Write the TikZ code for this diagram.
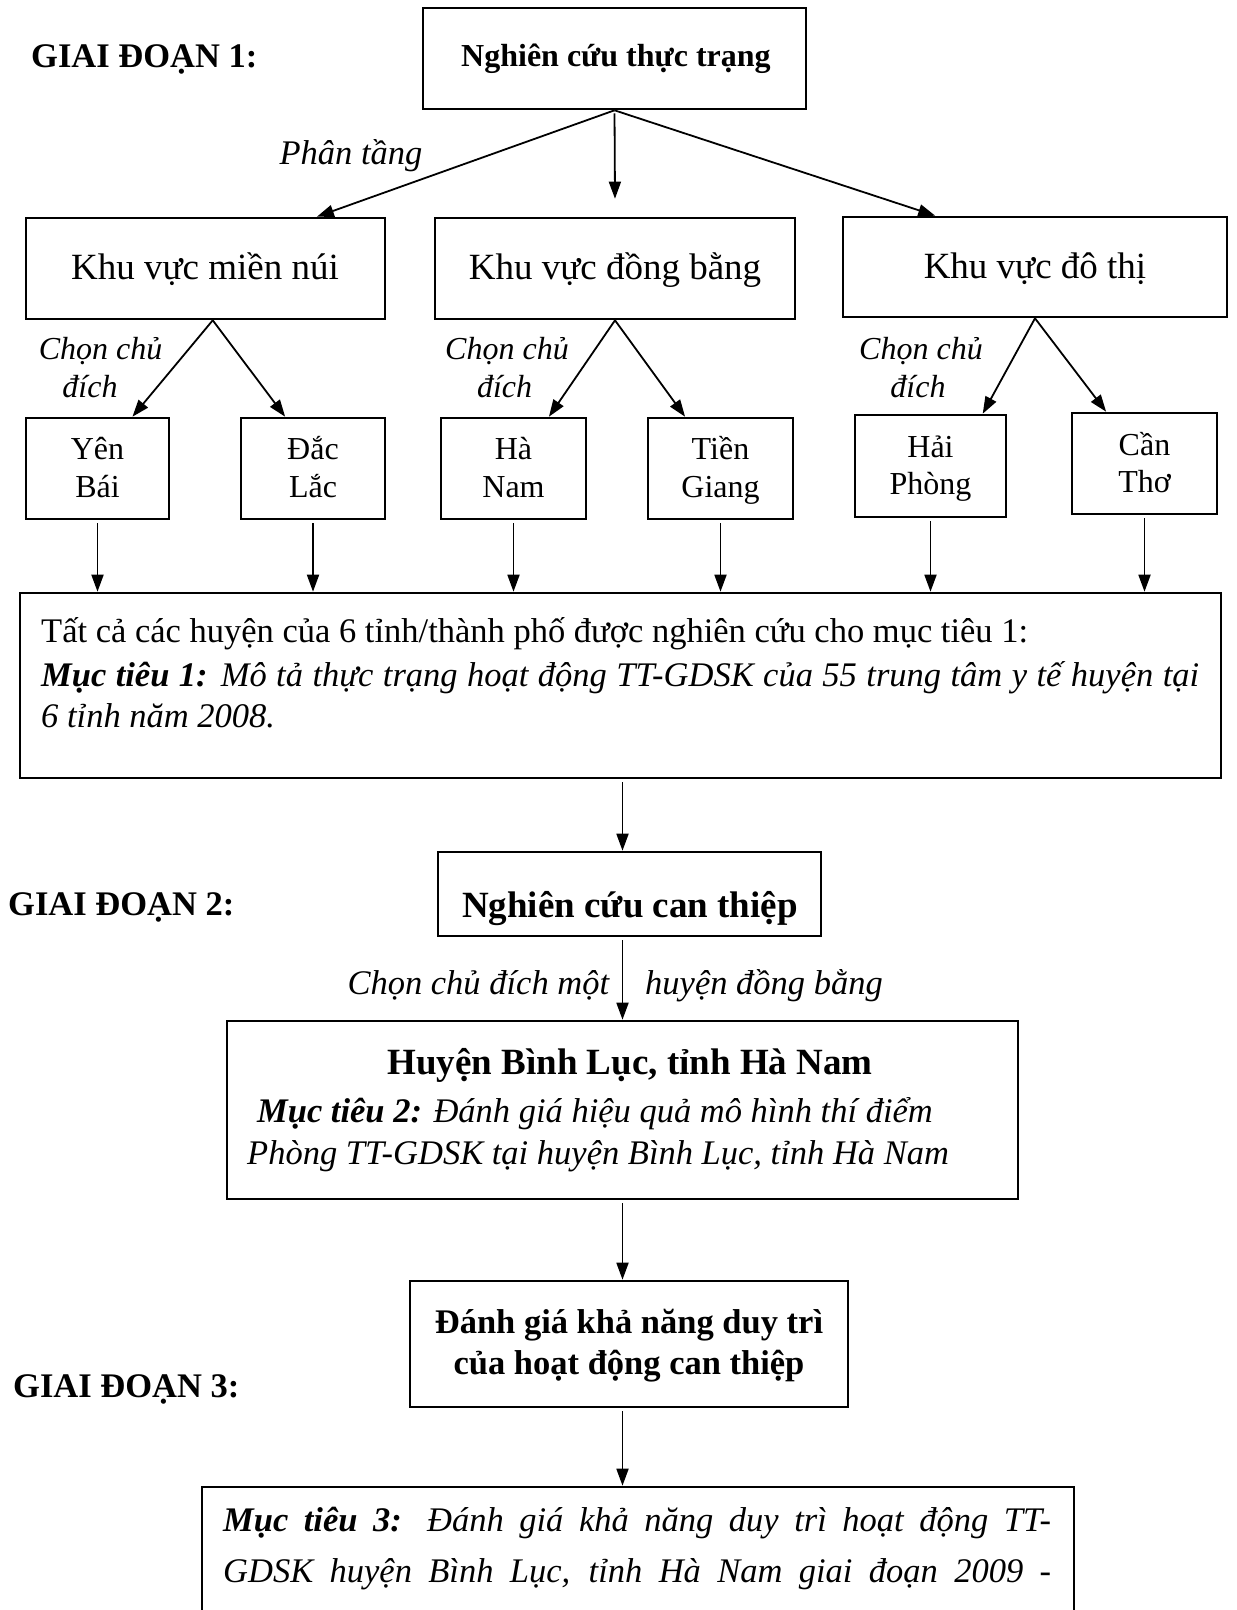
\documentclass[tikz,border=0pt]{standalone}
\usepackage{fontspec}
\setmainfont{Liberation Serif}
\usetikzlibrary{arrows.meta,calc}
\begin{document}
\begin{tikzpicture}[x=1pt,y=-1pt,
  box/.style={draw, line width=2.6pt, inner sep=0pt},
  conn/.style={line width=1.8pt, -{Triangle[length=17pt,width=12pt]}, shorten <=3pt},
  txt/.style={inner sep=0pt, anchor=base},
  fbig/.style={font=\fontsize{37}{44}\selectfont},
  fmid/.style={font=\fontsize{34.5}{42}\selectfont},
  fsm/.style={font=\fontsize{32}{38}\selectfont},
]
\useasboundingbox[fill=white] (0,0) rectangle (1237,1610);

% boxes
\node[box, minimum width=383pt, minimum height=101pt] (top) at (614.5,58.5) {};
\node[box, minimum width=359pt, minimum height=101pt] (r1) at (205.5,268.5) {};
\node[box, minimum width=360pt, minimum height=101pt] (r2) at (615,268.5) {};
\node[box, minimum width=384pt, minimum height=100pt] (r3) at (1035,267) {};
\node[box, minimum width=143pt, minimum height=101pt] (yb) at (97.5,468.5) {};
\node[box, minimum width=144pt, minimum height=101pt] (dl) at (313,468.5) {};
\node[box, minimum width=145pt, minimum height=101pt] (hn) at (513.5,468.5) {};
\node[box, minimum width=145pt, minimum height=101pt] (tg) at (720.5,468.5) {};
\node[box, minimum width=151pt, minimum height=102pt] (hp) at (930.5,466) {};
\node[box, minimum width=145pt, minimum height=101pt] (ct) at (1144.5,463.5) {};
\node[box, minimum width=1201pt, minimum height=185pt] (big) at (620.5,685.5) {};
\node[box, minimum width=383pt, minimum height=84pt] (cv) at (629.5,894) {};
\node[box, minimum width=791pt, minimum height=178pt] (hu) at (622.5,1110) {};
\node[box, minimum width=438pt, minimum height=126pt] (dg) at (629,1344) {};
\node[box, minimum width=872pt, minimum height=160pt] (mt3) at (638,1567) {};

% texts
\node[txt, anchor=base west, fmid] (g1) at (31,67) {\textbf{GIAI ĐOẠN 1:}};
\node[txt, fsm] (ttop) at (616,66) {\textbf{Nghiên cứu thực trạng}};
\node[txt, fmid] (pt) at (351,164) {\textit{Phân tầng}};
\node[txt, fbig] (tr1) at (205,279) {Khu vực miền núi};
\node[txt, fbig] (tr2) at (615,279) {Khu vực đồng bằng};
\node[txt, fbig] (tr3) at (1035,278) {Khu vực đô thị};

\node[txt, fsm] (c1a) at (100.6,359) {\textit{Chọn chủ}};
\node[txt, fsm] (c1b) at (90,397) {\textit{đích}};
\node[txt, fsm] (c2a) at (507,359) {\textit{Chọn chủ}};
\node[txt, fsm] (c2b) at (504.6,397) {\textit{đích}};
\node[txt, fsm] (c3a) at (921,359) {\textit{Chọn chủ}};
\node[txt, fsm] (c3b) at (918,397) {\textit{đích}};

\node[txt, fsm] (yb1) at (97.5,459) {Yên};
\node[txt, fsm] (yb2) at (97.5,497) {Bái};
\node[txt, fsm] (dl1) at (313,459) {Đắc};
\node[txt, fsm] (dl2) at (313,497) {Lắc};
\node[txt, fsm] (hn1) at (513.5,459) {Hà};
\node[txt, fsm] (hn2) at (513.5,497) {Nam};
\node[txt, fsm] (tg1) at (720.5,459) {Tiền};
\node[txt, fsm] (tg2) at (720.5,497) {Giang};
\node[txt, fsm] (hp1) at (930.5,457) {Hải};
\node[txt, fsm] (hp2) at (930.5,494) {Phòng};
\node[txt, fsm] (ct1) at (1144.5,455) {Cần};
\node[txt, fsm] (ct2) at (1144.5,492) {Thơ};

\node[txt, anchor=base west, fmid] (m1a) at (41,642) {Tất cả các huyện của 6 tỉnh/thành phố được nghiên cứu cho mục tiêu 1:};
\node[txt, anchor=base west, fmid] (m1b) at (41,686) {\makebox[1158pt][s]{\textbf{\textit{Mục tiêu 1:}} \textit{Mô tả thực trạng hoạt động TT-GDSK của 55 trung tâm y tế huyện tại}}};
\node[txt, anchor=base west, fmid] (m1c) at (41,727) {\textit{6 tỉnh năm 2008.}};

\node[txt, anchor=base west, fmid] (g2) at (8,915) {\textbf{GIAI ĐOẠN 2:}};
\node[txt, fbig] (tcv) at (630,917) {\textbf{Nghiên cứu can thiệp}};
\node[txt, anchor=base east, fmid] (l2a) at (610,994) {\textit{Chọn chủ đích một}};
\node[txt, anchor=base west, fmid] (l2b) at (645,994) {\textit{huyện đồng bằng}};

\node[txt, fbig] (thu) at (630,1074) {\textbf{Huyện Bình Lục, tỉnh Hà Nam}};
\node[txt, anchor=base west, fmid] (m2a) at (257,1122) {\textbf{\textit{Mục tiêu 2:}} \textit{Đánh giá hiệu quả mô hình thí điểm}};
\node[txt, anchor=base west, fmid] (m2b) at (247,1164) {\textit{Phòng TT-GDSK tại huyện Bình Lục, tỉnh Hà Nam}};

\node[txt, fmid] (dg1) at (629,1333) {\textbf{Đánh giá khả năng duy trì}};
\node[txt, fmid] (dg2) at (629,1374) {\textbf{của hoạt động can thiệp}};
\node[txt, anchor=base west, fmid] (g3) at (13,1397) {\textbf{GIAI ĐOẠN 3:}};

\node[txt, anchor=base west, fmid] (m3a) at (223,1531) {\makebox[828pt][s]{\textbf{\textit{Mục tiêu 3:}} \textit{Đánh giá khả năng duy trì hoạt động TT-}}};
\node[txt, anchor=base west, fmid] (m3b) at (223,1582) {\makebox[828pt][s]{\textit{GDSK huyện Bình Lục, tỉnh Hà Nam giai đoạn 2009 -}}};

% connectors
\draw[conn, shorten <=0pt] (top.south) -- ($(r1.north west)!0.808!(r1.north east)$);
\draw[conn] (top.south) -- ([yshift=18pt]r2.north);
\draw[conn, shorten <=0pt] (top.south) -- ($(r3.north west)!0.242!(r3.north east)$);

\draw[conn, shorten <=0pt] ($(r1.south west)!0.52!(r1.south east)$) -- ($(yb.north west)!0.74!(yb.north east)$);
\draw[conn, shorten <=0pt] ($(r1.south west)!0.52!(r1.south east)$) -- ($(dl.north west)!0.31!(dl.north east)$);
\draw[conn, shorten <=0pt] (r2.south) -- ($(hn.north west)!0.74!(hn.north east)$);
\draw[conn, shorten <=0pt] (r2.south) -- ($(tg.north west)!0.26!(tg.north east)$);
\draw[conn, shorten <=0pt] (r3.south) -- ($(hp.north west)!0.84!(hp.north east)$);
\draw[conn, shorten <=0pt] (r3.south) -- ($(ct.north west)!0.24!(ct.north east)$);

\foreach \s in {yb,dl,hn,tg,hp,ct}
  \draw[conn] (\s.south) -- (\s.south |- big.north);

\draw[conn] (big.south -| hu.north) -- (hu.north |- cv.north);
\draw[conn] (cv.south -| hu.north) -- (hu.north);
\draw[conn] (hu.south) -- (hu.south |- dg.north);
\draw[conn] (dg.south -| hu.north) -- (hu.north |- mt3.north);
\end{tikzpicture}
\end{document}
